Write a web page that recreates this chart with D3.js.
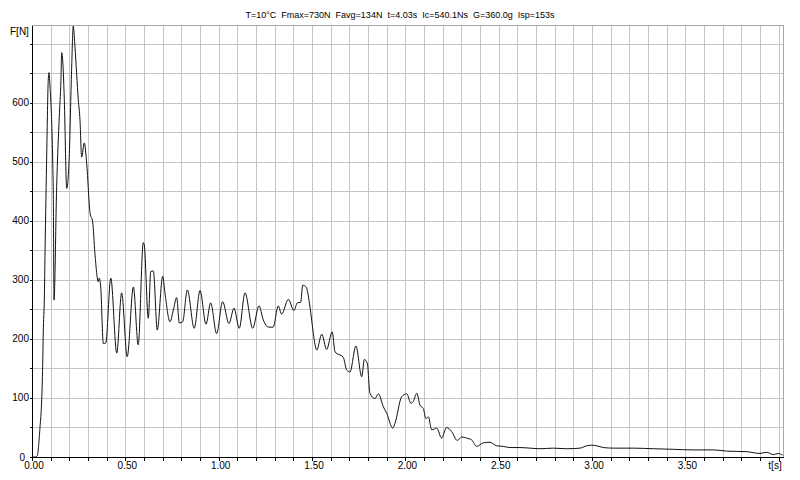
<!DOCTYPE html>
<html>
<head>
<meta charset="utf-8">
<script src="https://cdn.jsdelivr.net/npm/d3@7"></script>
<style>
  html, body { margin: 0; padding: 0; background: #fff; }
  svg { display: block; font-family: "Liberation Sans", Arial, sans-serif; }
</style>
</head>
<body>
<svg id="chart" width="800" height="480"></svg>
<script>
const title = "T=10°C  Fmax=730N  Favg=134N  t=4.03s  Ic=540.1Ns  G=360.0g  Isp=153s";

// thrust curve
const timeS = [
  0, 0.020, 0.028, 0.043, 0.052, 0.057, 0.061, 0.066, 0.070, 0.079, 0.087, 0.091, 0.096, 0.114, 0.118,
  0.132, 0.146, 0.155, 0.159, 0.168, 0.173, 0.186, 0.200, 0.212, 0.221, 0.230, 0.248, 0.257, 0.266,
  0.280, 0.293, 0.311, 0.325, 0.337, 0.355, 0.360, 0.368, 0.382, 0.395, 0.422, 0.454, 0.480, 0.510,
  0.543, 0.569, 0.596, 0.601, 0.623, 0.636, 0.650, 0.671, 0.700, 0.712, 0.739, 0.757, 0.775, 0.789,
  0.807, 0.832, 0.869, 0.900, 0.932, 0.957, 0.989, 1.021, 1.055, 1.082, 1.110, 1.141, 1.182, 1.216,
  1.239, 1.266, 1.292, 1.319, 1.337, 1.373, 1.403, 1.421, 1.439, 1.450, 1.468, 1.489, 1.507, 1.516,
  1.525, 1.552, 1.578, 1.608, 1.623, 1.667, 1.686, 1.703, 1.735, 1.766, 1.780, 1.796, 1.810, 1.837,
  1.855, 1.882, 1.900, 1.932, 1.944, 1.980, 2.007, 2.030, 2.042, 2.061, 2.078, 2.096, 2.110, 2.123,
  2.141, 2.168, 2.194, 2.221, 2.248, 2.278, 2.302, 2.328, 2.355, 2.382, 2.417, 2.453, 2.489, 2.524,
  2.560, 2.614, 2.667, 2.721, 2.792, 2.864, 2.935, 2.971, 2.998, 3.025, 3.060, 3.114, 3.221, 3.328,
  3.435, 3.542, 3.649, 3.721, 3.828, 3.899, 3.935, 3.971, 3.997, 4.021
];
const forceN = [
  0, 0, 2, 51, 97, 153, 220, 266, 350, 515, 638, 651, 630, 447, 266,
  457, 576, 638, 685, 650, 605, 455, 514, 655, 730, 695, 605, 571, 508,
  532, 497, 413, 398, 345, 297, 303, 288, 192, 193, 303, 176, 278, 170,
  288, 190, 363, 360, 235, 314, 315, 215, 306, 278, 229, 249, 270, 227,
  229, 283, 218, 282, 225, 261, 209, 263, 226, 252, 218, 278, 218, 256,
  232, 220, 220, 256, 242, 267, 248, 261, 262, 291, 288, 254, 209, 190,
  181, 208, 182, 212, 178, 169, 147, 144, 188, 136, 165, 159, 108, 99,
  107, 85, 74, 49, 57, 102, 107, 91, 94, 108, 88, 82, 65, 68,
  46, 49, 32, 50, 43, 28, 34, 32, 29, 18, 24, 25, 19, 18,
  16, 16, 15, 14, 15, 14, 15, 19, 20, 19, 16, 15, 15, 14,
  13, 12, 12, 10, 9, 6, 8, 4, 6, 3
];

const xLabelTicks = [0, 0.5, 1.0, 1.5, 2.0, 2.5, 3.0, 3.5];
const yLabelTicks = [0, 100, 200, 300, 400, 500, 600];
const xGridStep = 0.1;
const yGridStep = 50;
const tMax = 4.0225;
const fMax = 730;

const svg = d3.select("#chart");

const plot = { left: 32, right: 783, top: 26, bottom: 457 };

const x = d3.scaleLinear().domain([0, tMax]).range([plot.left, plot.right]);
const y = d3.scaleLinear().domain([0, fMax]).range([plot.bottom, plot.top]);

const xGrid = d3.range(xGridStep, tMax, xGridStep);
const yGrid = d3.range(yGridStep, fMax + 1, yGridStep);

// grid
const grid = svg.append("g").attr("shape-rendering", "crispEdges");
grid.selectAll(".vx")
  .data(xGrid)
  .join("line")
  .attr("x1", (d) => Math.round(x(d)) + 0.5)
  .attr("x2", (d) => Math.round(x(d)) + 0.5)
  .attr("y1", plot.top)
  .attr("y2", plot.bottom)
  .attr("stroke", "#c4c4c4");

grid.selectAll(".hy")
  .data(yGrid)
  .join("line")
  .attr("x1", plot.left)
  .attr("x2", plot.right)
  .attr("y1", (d) => Math.round(y(d)) + 0.5)
  .attr("y2", (d) => Math.round(y(d)) + 0.5)
  .attr("stroke", "#c4c4c4");

// frame top / right
grid.append("line")
  .attr("x1", plot.left).attr("x2", plot.right + 1)
  .attr("y1", plot.top - 0.5).attr("y2", plot.top - 0.5)
  .attr("stroke", "#a8a8a8");
grid.append("line")
  .attr("x1", plot.right + 0.5).attr("x2", plot.right + 0.5)
  .attr("y1", plot.top).attr("y2", plot.bottom)
  .attr("stroke", "#a8a8a8");

// curve
const points = timeS.map((t, i) => [t, forceN[i]]);
const line = d3.line()
  .x((d) => x(d[0]))
  .y((d) => y(d[1]))
  .curve(d3.curveMonotoneX);

svg.append("path")
  .datum(points)
  .attr("fill", "none")
  .attr("stroke", "#111")
  .attr("stroke-width", 1)
  .attr("d", line);

// axes
const fmt = d3.format(".2f");
const xAxis = d3.axisBottom(x)
  .tickValues(d3.range(0, tMax, xGridStep))
  .tickSize(3)
  .tickSizeOuter(0)
  .tickFormat("");

const yAxis = d3.axisLeft(y)
  .tickValues(d3.range(0, fMax + 1, yGridStep))
  .tickSize(3)
  .tickSizeOuter(0)
  .tickFormat("");

const gx = svg.append("g")
  .attr("transform", `translate(0,${plot.bottom + 0.5})`)
  .call(xAxis);
const gy = svg.append("g")
  .attr("transform", `translate(${plot.left + 0.5},0)`)
  .call(yAxis);

[gx, gy].forEach((g) => {
  g.attr("shape-rendering", "crispEdges");
  g.select(".domain").attr("stroke", "#000");
  g.selectAll(".tick line").attr("stroke", "#000");
});
gx.select(".domain").attr("d", `M${plot.left},0H${plot.right + 1}`);
gy.select(".domain").attr("d", `M0,${plot.top}V${plot.bottom + 1}`);

svg.append("g")
  .selectAll("text")
  .data(xLabelTicks)
  .join("text")
  .attr("x", (d) => x(d) + 2)
  .attr("y", 469)
  .attr("text-anchor", "middle")
  .attr("font-size", 10)
  .attr("fill", "#000")
  .text((d) => fmt(d));

svg.append("g")
  .selectAll("text")
  .data(yLabelTicks)
  .join("text")
  .attr("x", (d) => (d === 0 ? 25 : 29))
  .attr("y", (d) => y(d) + 3.5)
  .attr("text-anchor", "end")
  .attr("font-size", 10)
  .attr("fill", "#000")
  .text((d) => d);

svg.append("text")
  .attr("x", 775)
  .attr("y", 469)
  .attr("text-anchor", "middle")
  .attr("font-size", 10)
  .text("t[s]");

svg.append("text")
  .attr("x", 10)
  .attr("y", 35)
  .attr("font-size", 10)
  .text("F[N]");

svg.append("text")
  .attr("x", 400)
  .attr("y", 18)
  .attr("text-anchor", "middle")
  .attr("font-size", 9)
  .style("white-space", "pre")
  .text(title);
</script>
</body>
</html>
